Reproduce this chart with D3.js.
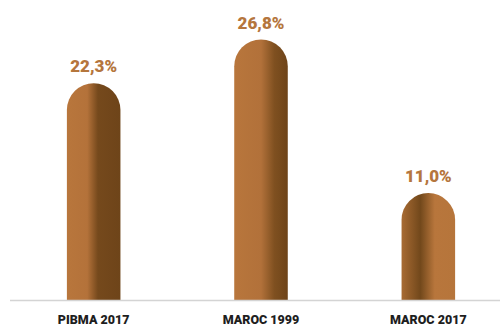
<!DOCTYPE html>
<html>
<head>
<meta charset="utf-8">
<script src="https://cdn.jsdelivr.net/npm/d3@7"></script>
<style>
  html, body { margin: 0; padding: 0; background: #fff; }
  svg { display: block; }
</style>
</head>
<body>
<svg id="chart" width="504" height="326"></svg>
<script>
// Share values per entity (percent)
const categories = ["PIBMA 2017", "MAROC 1999", "MAROC 2017"];
const values = [22.3, 26.8, 11.0];
const valueLabels = ["22,3%", "26,8%", "11,0%"];

// Colour stops for each bar's metallic horizontal shading
const gradientStops = [
  [[0, "#b8763c"], [0.38, "#b4723a"], [0.58, "#75491c"], [1, "#6e4419"]],
  [[0, "#b8763c"], [0.5, "#b2713a"], [0.75, "#7f5020"], [1, "#6e4419"]],
  [[0, "#a86b33"], [0.35, "#72481b"], [0.62, "#b8763c"], [1, "#b6753b"]]
];

const W = 504, H = 326;
const baseY = 300;
const svg = d3.select("#chart");

const x = d3.scaleBand()
  .domain(categories)
  .range([10, 512])
  .paddingInner(0.68)
  .paddingOuter(0.34);

const y = d3.scaleLinear()
  .domain([0, 30])
  .range([baseY, baseY - 30 * 9.72]);

const defs = svg.append("defs");
categories.forEach((c, i) => {
  const g = defs.append("linearGradient")
    .attr("id", "grad" + i)
    .attr("x1", "0%").attr("x2", "100%")
    .attr("y1", "0%").attr("y2", "0%");
  gradientStops[i].forEach(s => {
    g.append("stop").attr("offset", s[0]).attr("stop-color", s[1]);
  });
});

// Bar with semicircular cap; the cap's apex sits at the value
function barPath(cat, v) {
  const x0 = x(cat), w = x.bandwidth(), r = w / 2;
  const top = y(v);
  return `M${x0},${baseY} L${x0},${top + r} A${r},${r} 0 0 1 ${x0 + w},${top + r} L${x0 + w},${baseY} Z`;
}

svg.append("g").selectAll("path")
  .data(categories)
  .join("path")
  .attr("d", (c, i) => barPath(c, values[i]))
  .attr("fill", (c, i) => `url(#grad${i})`);

// Baseline
svg.append("line")
  .attr("x1", 10).attr("x2", 500)
  .attr("y1", baseY + 0.5).attr("y2", baseY + 0.5)
  .attr("stroke", "#d4d4d4")
  .attr("stroke-width", 1.5);

// Value labels
svg.append("g").selectAll("text")
  .data(categories)
  .join("text")
  .attr("x", c => x(c) + x.bandwidth() / 2)
  .attr("y", (c, i) => y(values[i]) - 11)
  .attr("text-anchor", "middle")
  .attr("font-family", "Roboto, 'DejaVu Sans', sans-serif")
  .attr("font-weight", 900)
  .attr("font-size", 17)
  .attr("fill", "#b5763d")
  .text((c, i) => valueLabels[i]);

// Category labels
const xAxis = d3.axisBottom(x).tickSize(0).tickPadding(0);
const ax = svg.append("g")
  .attr("transform", `translate(0,${baseY})`)
  .call(xAxis);
ax.select(".domain").remove();
ax.selectAll("text")
  .attr("dy", null)
  .attr("y", 24)
  .attr("font-family", "Roboto, 'DejaVu Sans', sans-serif")
  .attr("font-weight", 900)
  .attr("font-size", 12.5)
  .attr("fill", "#1e1e1e");
</script>
</body>
</html>
